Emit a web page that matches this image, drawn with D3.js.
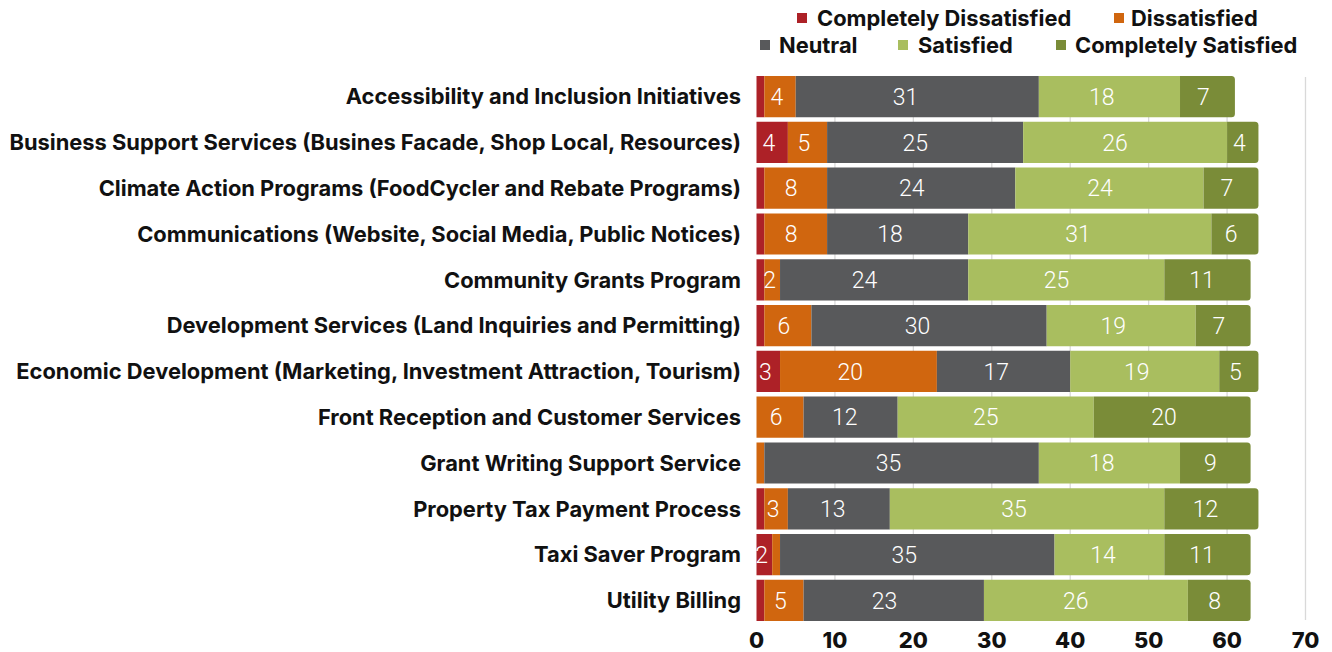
<!DOCTYPE html>
<html>
<head>
<meta charset="utf-8">
<script src="https://cdn.jsdelivr.net/npm/d3@7"></script>
<style>
  body { margin: 0; background: #fff; }
  svg { display: block; font-family: Inter, Roboto, "Noto Sans", sans-serif; }
  .num { font-family: Roboto, sans-serif; }
</style>
</head>
<body>
<svg id="chart"></svg>
<script>
const width = 1332;
const height = 652;

const categories = [
  "Accessibility and Inclusion Initiatives",
  "Business Support Services (Busines Facade, Shop Local, Resources)",
  "Climate Action Programs (FoodCycler and Rebate Programs)",
  "Communications (Website, Social Media, Public Notices)",
  "Community Grants Program",
  "Development Services (Land Inquiries and Permitting)",
  "Economic Development (Marketing, Investment Attraction, Tourism)",
  "Front Reception and Customer Services",
  "Grant Writing Support Service",
  "Property Tax Payment Process",
  "Taxi Saver Program",
  "Utility Billing",
];

const seriesNames = ["Completely Dissatisfied", "Dissatisfied", "Neutral", "Satisfied", "Completely Satisfied"];
const seriesColors = ["#ad2127", "#d0660f", "#58595b", "#a9be5f", "#7a8c38"];

const completelyDissatisfied = [1, 4, 1, 1, 1, 1, 3, 0, 0, 1, 2, 1];
const dissatisfied = [4, 5, 8, 8, 2, 6, 20, 6, 1, 3, 1, 5];
const neutral = [31, 25, 24, 18, 24, 30, 17, 12, 35, 13, 35, 23];
const satisfied = [18, 26, 24, 31, 25, 19, 19, 25, 18, 35, 14, 26];
const completelySatisfied = [7, 4, 7, 6, 11, 7, 5, 20, 9, 12, 11, 8];

const xTicks = [0, 10, 20, 30, 40, 50, 60, 70];

const allSeries = [completelyDissatisfied, dissatisfied, neutral, satisfied, completelySatisfied];

const svg = d3.select("#chart").attr("width", width).attr("height", height);

const x = d3.scaleLinear().domain([0, 70]).range([756.5, 1305.5]);
const y = d3.scaleBand().domain(categories).range([76, 621]).paddingInner(0.1).paddingOuter(0);

// gridlines
svg.append("g")
  .selectAll("line")
  .data(xTicks.slice(1))
  .join("line")
  .attr("x1", (d) => x(d))
  .attr("x2", (d) => x(d))
  .attr("y1", 77)
  .attr("y2", 620)
  .attr("stroke", "#d9d9d9")
  .attr("stroke-width", 1.3);

// stacked segments
const rows = categories.map((c, i) => {
  const row = { category: c };
  seriesNames.forEach((s, k) => (row[s] = allSeries[k][i]));
  return row;
});

const stacked = d3.stack().keys(seriesNames)(rows);

function segPath(x0, x1, y0, h, r) {
  // rect with rounded right corners
  r = Math.min(r, (x1 - x0) / 2);
  return `M${x0},${y0}H${x1 - r}Q${x1},${y0} ${x1},${y0 + r}V${y0 + h - r}Q${x1},${y0 + h} ${x1 - r},${y0 + h}H${x0}Z`;
}

const barGroup = svg.append("g");
stacked.forEach((layer, k) => {
  const isLast = k === stacked.length - 1;
  barGroup.append("g")
    .attr("fill", seriesColors[k])
    .selectAll("path")
    .data(layer)
    .join("path")
    .attr("d", (d) => segPath(x(d[0]), x(d[1]), y(d.data.category), y.bandwidth(), isLast ? 3.5 : 0));
});

// value labels (sit a little left of the segment centre, as in the original)
const labelGroup = svg.append("g").attr("class", "num");
stacked.forEach((layer) => {
  labelGroup.append("g")
    .selectAll("text")
    .data(layer.filter((d) => d[1] - d[0] >= 2))
    .join("text")
    .attr("x", (d) => {
      const w = x(d[1]) - x(d[0]);
      return x(d[0]) + w / 2 - (2 + 0.04 * w);
    })
    .attr("y", (d) => y(d.data.category) + y.bandwidth() / 2)
    .attr("dy", "0.36em")
    .attr("text-anchor", "middle")
    .attr("fill", "#fff")
    .attr("font-size", 23)
    .attr("font-weight", 300)
    .text((d) => d[1] - d[0]);
});

// category labels
const catLabels = svg.append("g")
  .selectAll("text")
  .data(categories)
  .join("text")
  .attr("x", 741)
  .attr("y", (d) => y(d) + y.bandwidth() / 2)
  .attr("dy", "0.36em")
  .attr("text-anchor", "end")
  .attr("font-size", 20)
  .attr("font-weight", 700)
  .attr("fill", "#111")
  .text((d) => d);

// fit the longest label to the reference width
const longest = d3.max(catLabels.nodes(), (n) => n.getComputedTextLength());
const labelSize = 20 * 732 / longest;
catLabels.attr("font-size", labelSize);

// x axis labels
svg.append("g")
  .selectAll("text")
  .data(xTicks)
  .join("text")
  .attr("x", (d) => x(d))
  .attr("y", 640)
  .attr("dy", "0.36em")
  .attr("text-anchor", "middle")
  .attr("font-size", labelSize)
  .attr("font-weight", 800)
  .attr("fill", "#111")
  .text((d) => d);

// legend
const legendPos = [
  { sx: 797, tx: 817, y: 18 },
  { sx: 1114, tx: 1131, y: 18 },
  { sx: 760, tx: 779, y: 45 },
  { sx: 898, tx: 918, y: 45 },
  { sx: 1056, tx: 1075, y: 45 },
];
const legend = svg.append("g")
  .selectAll("g")
  .data(seriesNames)
  .join("g");
legend.append("rect")
  .attr("x", (d, i) => legendPos[i].sx)
  .attr("y", (d, i) => legendPos[i].y - 5)
  .attr("width", 10)
  .attr("height", 10)
  .attr("fill", (d, i) => seriesColors[i]);
legend.append("text")
  .attr("x", (d, i) => legendPos[i].tx)
  .attr("y", (d, i) => legendPos[i].y)
  .attr("dy", "0.36em")
  .attr("font-size", labelSize)
  .attr("font-weight", 700)
  .attr("fill", "#111")
  .text((d) => d);
</script>
</body>
</html>
